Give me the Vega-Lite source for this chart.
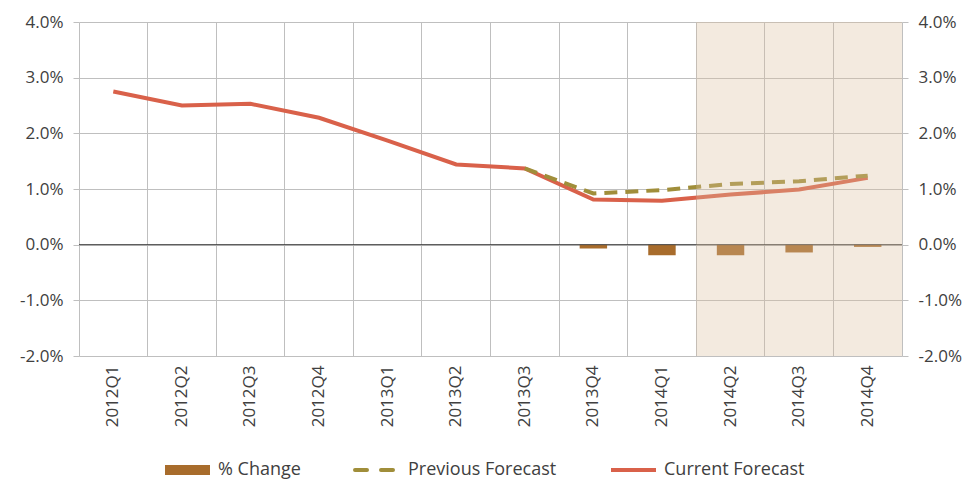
{
  "$schema": "https://vega.github.io/schema/vega-lite/v6.json",
  "width": 823,
  "height": 334,
  "autosize": {"type": "none"},
  "padding": {"left": 79, "top": 22, "right": 70, "bottom": 126},
  "background": "white",
  "config": {
    "font": "Open Sans",
    "view": {"stroke": null},
    "axis": {"labelFont": "Open Sans", "labelFontSize": 17, "labelColor": "#404040", "gridColor": "#BFBFBF", "tickColor": "#BFBFBF", "domainColor": "#BFBFBF"},
    "legend": {"labelFont": "Open Sans", "labelFontSize": 18, "labelColor": "#404040"}
  },
  "datasets": {
    "main": [
      {"q": "2012Q1", "series": "Current Forecast", "value": 0.0275},
      {"q": "2012Q2", "series": "Current Forecast", "value": 0.0250},
      {"q": "2012Q3", "series": "Current Forecast", "value": 0.0253},
      {"q": "2012Q4", "series": "Current Forecast", "value": 0.0228},
      {"q": "2013Q1", "series": "Current Forecast", "value": 0.0187},
      {"q": "2013Q2", "series": "Current Forecast", "value": 0.0144},
      {"q": "2013Q3", "series": "Current Forecast", "value": 0.0137},
      {"q": "2013Q4", "series": "Current Forecast", "value": 0.0081},
      {"q": "2014Q1", "series": "Current Forecast", "value": 0.0079},
      {"q": "2014Q2", "series": "Current Forecast", "value": 0.0090},
      {"q": "2014Q3", "series": "Current Forecast", "value": 0.0099},
      {"q": "2014Q4", "series": "Current Forecast", "value": 0.0120},
      {"q": "2013Q3", "series": "Previous Forecast", "value": 0.0137},
      {"q": "2013Q4", "series": "Previous Forecast", "value": 0.0092},
      {"q": "2014Q1", "series": "Previous Forecast", "value": 0.0098},
      {"q": "2014Q2", "series": "Previous Forecast", "value": 0.0109},
      {"q": "2014Q3", "series": "Previous Forecast", "value": 0.0114},
      {"q": "2014Q4", "series": "Previous Forecast", "value": 0.0124},
      {"q": "2013Q4", "series": "% Change", "value": -0.0007},
      {"q": "2014Q1", "series": "% Change", "value": -0.0019},
      {"q": "2014Q2", "series": "% Change", "value": -0.0019},
      {"q": "2014Q3", "series": "% Change", "value": -0.0014},
      {"q": "2014Q4", "series": "% Change", "value": -0.0004}
    ],
    "shade": [
      {"q": "2014Q2"},
      {"q": "2014Q3"},
      {"q": "2014Q4"}
    ]
  },
  "resolve": {"axis": {"y": "independent"}},
  "layer": [
    {
      "data": {"name": "main"},
      "transform": [{"filter": "datum.series === '% Change'"}],
      "mark": {"type": "bar", "width": {"band": 0.4}},
      "encoding": {
        "x": {"field": "q", "type": "ordinal", "scale": {"domain": ["2012Q1","2012Q2","2012Q3","2012Q4","2013Q1","2013Q2","2013Q3","2013Q4","2014Q1","2014Q2","2014Q3","2014Q4"], "paddingInner": 0, "paddingOuter": 0}, "axis": {"title": null, "grid": true, "bandPosition": 0, "ticks": false, "domain": false, "labelAngle": 270, "labelPadding": 9}},
        "y": {"field": "value", "type": "quantitative", "scale": {"domain": [-0.02, 0.04], "nice": false}, "axis": {"title": null, "orient": "left", "values": [-0.02, -0.01, 0, 0.01, 0.02, 0.03, 0.04], "grid": true, "domain": false, "tickSize": 6, "labelPadding": 10, "labelExpr": "replace(format(datum.value, '.1%'), '\u2212', '-')"}},
        "color": {"field": "series", "type": "nominal", "scale": {"domain": ["% Change", "Previous Forecast", "Current Forecast"], "range": ["#A86C2C", "#A08E3A", "#D9614A"]}, "legend": {"title": null, "orient": "none", "legendX": 86, "legendY": 436, "padding": 0, "direction": "horizontal", "symbolType": "stroke", "symbolSize": 2025, "symbolStrokeWidth": 4, "columnPadding": 46, "labelOffset": 8, "encode": {"symbols": {"update": {"x": {"value": 22.5}, "y": {"value": 12}, "shape": {"signal": "datum.value === '% Change' ? 'M-1,-0.222H1V0.222H-1Z' : 'M-1,0H1'"}, "fill": {"signal": "datum.value === '% Change' ? '#A86C2C' : 'transparent'"}, "strokeWidth": {"signal": "datum.value === '% Change' ? 0 : 4"}, "strokeCap": {"signal": "datum.value === 'Previous Forecast' ? 'round' : 'butt'"}, "strokeDash": {"signal": "datum.value === 'Previous Forecast' ? [12, 14] : [1, 0]"}}}, "labels": {"update": {"x": {"value": 53}, "y": {"value": 12}, "baseline": {"value": "middle"}}}}}}
      }
    },
    {
      "data": {"values": [{}]},
      "mark": {"type": "rule", "color": "#404040", "strokeWidth": 1},
      "encoding": {
        "y": {"datum": 0, "type": "quantitative", "axis": null}
      }
    },
    {
      "data": {"name": "main"},
      "transform": [{"filter": "datum.series === 'Current Forecast'"}],
      "mark": {"type": "line", "strokeWidth": 4},
      "encoding": {
        "x": {"field": "q", "type": "ordinal", "scale": {"domain": ["2012Q1","2012Q2","2012Q3","2012Q4","2013Q1","2013Q2","2013Q3","2013Q4","2014Q1","2014Q2","2014Q3","2014Q4"], "paddingInner": 0, "paddingOuter": 0}, "axis": {"title": null, "grid": true, "bandPosition": 0, "ticks": false, "domain": false, "labelAngle": 270, "labelPadding": 9}},
        "y": {"field": "value", "type": "quantitative", "axis": {"title": null, "orient": "right", "values": [-0.02, -0.01, 0, 0.01, 0.02, 0.03, 0.04], "grid": false, "domain": true, "tickSize": 6, "labelPadding": 10, "labelExpr": "replace(format(datum.value, '.1%'), '\u2212', '-')"}},
        "color": {"field": "series", "type": "nominal"}
      }
    },
    {
      "data": {"name": "main"},
      "transform": [{"filter": "datum.series === 'Previous Forecast'"}],
      "mark": {"type": "line", "strokeWidth": 4, "strokeDash": [13, 8]},
      "encoding": {
        "x": {"field": "q", "type": "ordinal", "scale": {"domain": ["2012Q1","2012Q2","2012Q3","2012Q4","2013Q1","2013Q2","2013Q3","2013Q4","2014Q1","2014Q2","2014Q3","2014Q4"], "paddingInner": 0, "paddingOuter": 0}, "axis": {"title": null, "grid": true, "bandPosition": 0, "ticks": false, "domain": false, "labelAngle": 270, "labelPadding": 9}},
        "y": {"field": "value", "type": "quantitative", "axis": null},
        "color": {"field": "series", "type": "nominal"}
      }
    },
    {
      "data": {"name": "shade"},
      "mark": {"type": "rect", "color": "#DBC09F", "opacity": 0.33},
      "encoding": {
        "x": {"field": "q", "type": "ordinal", "scale": {"domain": ["2012Q1","2012Q2","2012Q3","2012Q4","2013Q1","2013Q2","2013Q3","2013Q4","2014Q1","2014Q2","2014Q3","2014Q4"], "paddingInner": 0, "paddingOuter": 0}, "axis": {"title": null, "grid": true, "bandPosition": 0, "ticks": false, "domain": false, "labelAngle": 270, "labelPadding": 9}},
        "y": {"datum": -0.02, "type": "quantitative", "axis": null},
        "y2": {"datum": 0.04}
      }
    }
  ]
}
